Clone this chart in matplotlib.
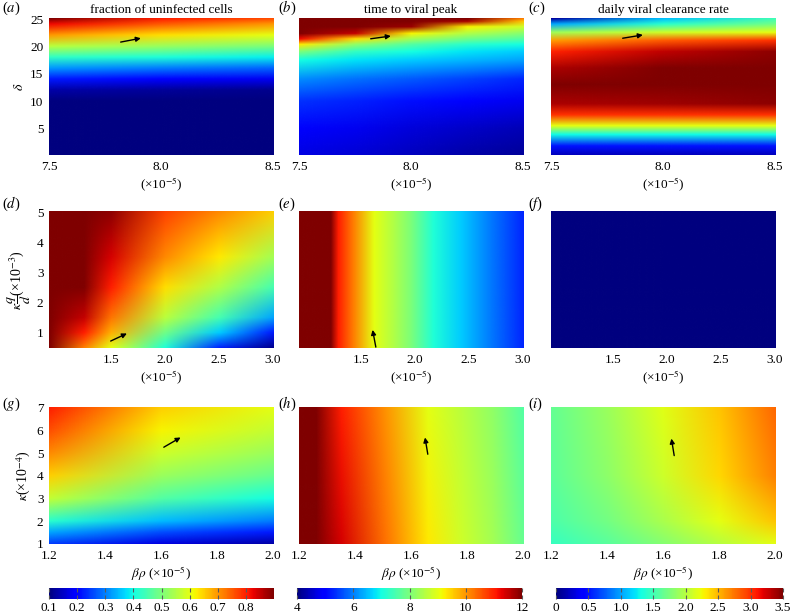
import numpy as np
import matplotlib
matplotlib.use('Agg')
import matplotlib.pyplot as plt
from matplotlib.colors import Normalize
from matplotlib.cm import ScalarMappable
from matplotlib.image import NonUniformImage

plt.rcParams['font.family'] = ['Liberation Serif', 'DejaVu Serif']
plt.rcParams['mathtext.fontset'] = 'stix'

# ---- grids and values ----
# row 1: x = beta*rho (x1e-5), y = delta
x_top = [7.5, 8.0, 8.5]
x_top5 = [7.5, 7.75, 8.0, 8.25, 8.5]
y_a = [0.25, 10, 12, 14, 16, 18, 20, 22, 24, 25]
z_a = [[0.10, 0.10, 0.10],
       [0.10, 0.10, 0.10],
       [0.13, 0.12, 0.11],
       [0.22, 0.20, 0.18],
       [0.32, 0.30, 0.28],
       [0.43, 0.41, 0.39],
       [0.56, 0.53, 0.50],
       [0.70, 0.64, 0.60],
       [0.82, 0.75, 0.70],
       [0.90, 0.80, 0.76]]

y_b = [0.25, 5, 10, 14, 17.5, 19, 20.3, 21.3, 22.3, 23.5, 24.5, 25]
z_b = [[4.7, 4.6, 4.45, 4.3, 4.2],
       [4.9, 4.8, 4.65, 4.5, 4.4],
       [5.4, 5.25, 5.1, 4.95, 4.8],
       [6.1, 5.9, 5.7, 5.5, 5.3],
       [7.0, 6.8, 6.6, 6.45, 6.3],
       [8.0, 7.3, 7.0, 6.8, 6.6],
       [9.3, 8.2, 7.6, 7.2, 7.0],
       [11.2, 9.4, 8.4, 7.9, 7.6],
       [12.5, 11.5, 9.2, 8.5, 8.1],
       [13.0, 12.8, 11.8, 9.2, 8.8],
       [13.0, 13.0, 12.8, 11.7, 9.6],
       [13.0, 13.0, 13.0, 12.5, 10.2]]

y_c = [0.25, 1.8, 3.9, 5.5, 7.5, 9.5, 13, 16, 19, 21, 22.5, 24, 25]
z_c = [[0.2, 0.2, 0.2],
       [0.5, 0.5, 0.5],
       [1.3, 1.3, 1.3],
       [2.2, 2.2, 2.2],
       [3.0, 3.0, 3.0],
       [3.35, 3.4, 3.45],
       [3.6, 3.7, 3.8],
       [3.35, 3.55, 3.7],
       [3.05, 3.3, 3.45],
       [2.6, 2.85, 3.0],
       [1.9, 2.1, 2.2],
       [1.0, 1.4, 1.7],
       [0.1, 1.1, 1.5]]

# row 2: x = beta*rho (x1e-5), y = kappa q/d (x1e-3)
x_d = [0.93, 1.25, 1.5, 2.0, 2.5, 3.0]
y_d = [0.5, 1.0, 1.5, 2.5, 3.5, 5.0]
z_d = [[0.92, 0.72, 0.60, 0.41, 0.23, 0.11],
       [0.95, 0.80, 0.68, 0.49, 0.36, 0.22],
       [0.97, 0.85, 0.73, 0.56, 0.45, 0.33],
       [0.98, 0.90, 0.80, 0.64, 0.55, 0.45],
       [0.98, 0.92, 0.84, 0.71, 0.63, 0.54],
       [0.98, 0.95, 0.89, 0.77, 0.71, 0.65]]

x_e = [0.93, 1.22, 1.29, 1.43, 1.62, 1.8, 1.96, 2.17, 2.42, 2.73, 3.0]
y_e = [0.5, 5.0]
z_e = [[12.5, 12.0, 11.0, 10.2, 9.0, 8.5, 8.0, 7.1, 6.6, 5.9, 5.3],
       [12.5, 12.0, 11.0, 10.2, 9.0, 8.5, 8.0, 7.1, 6.6, 5.9, 5.3]]

x_f = [0.93, 3.0]
y_f = [0.5, 5.0]
z_f = [[0.0, 0.0], [0.0, 0.0]]

# row 3: x = beta*rho (x1e-5), y = kappa (x1e-4)
x_g = [1.2, 1.6, 2.0]
y_g = [1, 1.5, 2, 3, 4, 5, 6, 7]
z_g = [[0.25, 0.17, 0.13],
       [0.33, 0.26, 0.22],
       [0.42, 0.35, 0.30],
       [0.57, 0.46, 0.40],
       [0.65, 0.53, 0.48],
       [0.71, 0.58, 0.53],
       [0.76, 0.62, 0.57],
       [0.80, 0.65, 0.60]]

x_h = [1.2, 1.26, 1.35, 1.51, 1.66, 1.78, 1.89, 2.0]
y_h = [1, 7]
z_h = [[12.6, 12.2, 11.4, 10.3, 9.3, 8.8, 8.4, 7.8],
       [12.5, 12.0, 11.0, 10.0, 9.0, 8.6, 8.2, 7.6]]

x_i = [1.2, 1.4, 1.6, 1.8, 2.0]
y_i = [1, 2, 4, 7]
z_i = [[1.45, 1.60, 1.80, 2.00, 2.20],
       [1.55, 1.72, 1.95, 2.20, 2.45],
       [1.62, 1.82, 2.10, 2.38, 2.70],
       [1.65, 1.88, 2.18, 2.45, 2.80]]

# arrows (start, end) per panel
arrows = {
    'a': ((7.82, 20.8), (7.91, 21.5)),
    'b': ((7.82, 21.4), (7.91, 21.9)),
    'c': ((7.82, 21.5), (7.91, 22.1)),
    'd': ((1.50, 0.73), (1.65, 0.98)),
    'e': ((1.64, 0.53), (1.61, 1.10)),
    'g': ((1.61, 5.27), (1.67, 5.70)),
    'h': ((1.66, 4.96), (1.65, 5.70)),
    'i': ((1.64, 4.90), (1.63, 5.65)),
}

titles = ['fraction of uninfected cells', 'time to viral peak',
          'daily viral clearance rate']
ranges = [(0.1, 0.9), (4, 12), (0, 3.5)]
cb_ticks = [[0.1, 0.2, 0.3, 0.4, 0.5, 0.6, 0.7, 0.8],
            [4, 6, 8, 10, 12],
            [0, 0.5, 1.0, 1.5, 2.0, 2.5, 3.0, 3.5]]
cb_labels = [['0.1', '0.2', '0.3', '0.4', '0.5', '0.6', '0.7', '0.8'],
             ['4', '6', '8', '10', '12'],
             ['0', '0.5', '1.0', '1.5', '2.0', '2.5', '3.0', '3.5']]

panels = [
    ('a', x_top, y_a, z_a), ('b', x_top5, y_b, z_b), ('c', x_top, y_c, z_c),
    ('d', x_d, y_d, z_d), ('e', x_e, y_e, z_e), ('f', x_f, y_f, z_f),
    ('g', x_g, y_g, z_g), ('h', x_h, y_h, z_h), ('i', x_i, y_i, z_i),
]

W, H = 790, 616
fig = plt.figure(figsize=(W / 100, H / 100), dpi=100)

col_left = [49, 299, 551]
row_top = [19, 212, 408]
ax_w, ax_h = 224, 136

xlims = [(7.5, 8.5), (0.93, 3.0), (1.2, 2.0)]
ylims = [(0.25, 25), (0.5, 5), (1, 7)]
xticks = [[7.5, 8.0, 8.5], [1.5, 2.0, 2.5, 3.0], [1.2, 1.4, 1.6, 1.8, 2.0]]
yticks = [[5, 10, 15, 20, 25], [1, 2, 3, 4, 5], [1, 2, 3, 4, 5, 6, 7]]
xlabels = [r'(×10$^{-5}$)', r'(×10$^{-5}$)', r'$\beta\rho$ (×10$^{-5}$)']
ylabels = [r'$\delta$', r'$\kappa\dfrac{q}{d}$(×10$^{-3}$)', r'$\kappa$(×10$^{-4}$)']
label_y = [8, 204, 404]
label_x = [2, 278, 528]

fs = 9.5
for k, (name, xs, ys, zs) in enumerate(panels):
    r, c = divmod(k, 3)
    left = col_left[c] / W
    bottom = (H - row_top[r] - ax_h) / H
    ax = fig.add_axes([left, bottom, ax_w / W, ax_h / H])
    vmin, vmax = ranges[c]
    x0, x1 = xlims[r]
    y0, y1 = ylims[r]
    im = NonUniformImage(ax, interpolation='bilinear', cmap='jet',
                         norm=Normalize(vmin, vmax), extent=(x0, x1, y0, y1))
    im.set_data(np.array(xs, float), np.array(ys, float), np.array(zs, float))
    ax.add_image(im)
    ax.set_xlim(x0, x1)
    ax.set_ylim(y0, y1)
    ax.set_xticks(xticks[r])
    ax.set_xticklabels(['%.1f' % v for v in xticks[r]])
    if c == 0:
        ax.set_yticks(yticks[r])
        ax.set_ylabel(ylabels[r], fontsize=10, labelpad=3)
    else:
        ax.set_yticks([])
    ax.set_xlabel(xlabels[r], fontsize=fs, labelpad=2)
    ax.tick_params(length=0, labelsize=fs, pad=4)
    for s in ax.spines.values():
        s.set_visible(False)
    if r == 0:
        ax.set_title(titles[c], fontsize=9.5, pad=4)
    if name in arrows:
        st, en = arrows[name]
        ax.annotate('', xy=en, xytext=st,
                    arrowprops=dict(arrowstyle='-|>', color='k', lw=1.0,
                                    mutation_scale=7, shrinkA=0, shrinkB=0))
    fig.text(label_x[c] / W, 1 - label_y[r] / H, r'($%s$)' % name,
             fontsize=10.5, va='center', ha='left')

# colorbars
cb_left = [49, 297, 556]
cb_width = [225, 225, 227]
for c in range(3):
    cax = fig.add_axes([cb_left[c] / W, (H - 599) / H, cb_width[c] / W, 11 / H])
    sm = ScalarMappable(norm=Normalize(*ranges[c]), cmap='jet')
    cb = fig.colorbar(sm, cax=cax, orientation='horizontal')
    cb.set_ticks(cb_ticks[c])
    cb.set_ticklabels(cb_labels[c])
    cb.outline.set_visible(False)
    cax.tick_params(direction='in', length=3, color='0.35', labelsize=fs,
                    top=True, pad=2)

fig.savefig('out.png', dpi=100)
